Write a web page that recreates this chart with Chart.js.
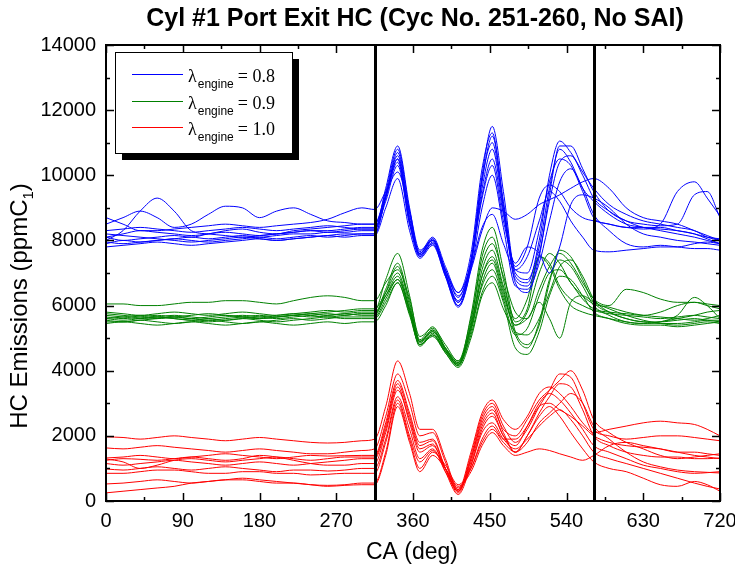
<!DOCTYPE html>
<html>
<head>
<meta charset="utf-8">
<script src="https://cdn.jsdelivr.net/npm/chart.js@4.4.1/dist/chart.umd.min.js"></script>
<style>
  html, body { margin: 0; padding: 0; background: #fff; }
</style>
</head>
<body>
<canvas id="hcChart" width="735" height="567"></canvas>
<script>
// crank angle grid (deg) shared by every cycle trace
var crankAngle = [0, 20, 40, 60, 80, 100, 120, 140, 160, 180, 200, 220, 240, 260, 280, 300,
    315, 328, 342, 356, 368, 383, 398, 413, 428, 441, 453, 466, 480, 494, 508, 520, 532, 545, 559, 572,
    590, 610, 630, 650, 670, 690, 705, 720];

var cycleNumbers = [251, 252, 253, 254, 255, 256, 257, 258, 259, 260];
var lambdaValues = ['0.8', '0.9', '1.0'];
var lineColors = ['#0000ff', '#008000', '#ff0000'];

// exhaust valve window markers (deg)
var markerAngles = [315, 572];

var xTicks = [0, 90, 180, 270, 360, 450, 540, 630, 720];
var yTicks = [0, 2000, 4000, 6000, 8000, 10000, 12000, 14000];

// HC (ppmC1), lambda = 0.8, cycles 251-260
var hcLambda08 = [
    [8700,8500,8300,8300,8350,8400,8450,8500,8450,8400,8450,8500,8550,8650,8850,9000, 8950,9500,10100,8900,7700,8000,7100,6300,7100,8300,9000,8900,8650,8800,9100,9250,9400,9600,9800,9900, 9600,9000,8700,8600,8500,8300,8150,8000],
    [8100,8000,8050,8100,8150,8100,8200,8250,8200,8150,8200,8250,8300,8300,8350,8400, 8400,9400,10600,8700,7600,8050,7000,6100,7400,10000,11500,9500,7000,6800,7800,9600,10800,10400,9600,9200, 8800,8500,8400,8300,8200,8100,8000,7900],
    [7900,8000,7950,8000,8050,8100,8050,8100,8150,8100,8150,8200,8200,8250,8250,8300, 8300,9600,10900,9000,7500,7900,6900,5950,7200,9800,11200,9200,6900,6700,8000,10000,11050,10700,10100,9600, 9100,8800,8600,8500,8400,8300,8100,8000],
    [8100,8200,8300,8250,8200,8150,8200,8300,8350,8250,8200,8300,8350,8400,8450,8500, 8500,9400,10500,8600,7550,8000,7000,6150,7300,9600,10800,8900,6800,6600,7600,9200,10400,10600,10000,9300, 8900,8600,8400,8350,8300,8200,8050,7900],
    [8300,8350,8400,8350,8300,8250,8300,8350,8400,8350,8300,8350,8400,8450,8400,8350, 8350,9200,10300,8500,7600,8050,7100,6250,7400,9400,10500,8800,7200,7800,9300,9700,9500,9000,8700,8600, 8500,8400,8400,8400,8300,8200,8100,8050],
    [7950,7900,7950,8000,8050,8000,7950,8000,8050,8100,8050,8100,8150,8100,8150,8200, 8200,9300,10400,8500,7500,7950,7000,6100,7300,9300,10300,8600,7300,7800,7600,7000,7800,9100,9400,9300, 9000,8500,8200,8100,8000,7950,7900,7850],
    [7800,7850,7900,7950,7900,7850,7900,7950,8000,8050,8000,8050,8100,8150,8100,8150, 8150,9000,9900,8300,7450,7850,6900,6000,7100,9000,10000,8400,6600,6500,7300,8600,9800,10200,9600,8800, 8300,7900,7800,7850,7800,7750,7750,7700],
    [8200,8150,8100,8050,8000,7950,8000,8050,8100,8050,8000,8050,8100,8150,8200,8200, 8200,9300,10500,8600,7600,8000,7100,6400,7200,8400,8800,7900,7100,7500,8600,9500,9200,8600,8100,7700, 7650,7700,7750,7800,7800,7900,7950,7900],
    [8000,8300,8900,9300,8900,8300,8200,8150,8100,8150,8200,8250,8300,8250,8300,8350, 8350,9350,10700,8800,7650,8100,7200,6400,7600,10200,11300,9100,7100,7000,8300,9800,10500,10300,9500,8700, 8500,8400,8350,8500,9500,9800,9300,8750],
    [8500,8700,8900,8700,8400,8500,8800,9050,9000,8700,8900,9000,8800,8600,8550,8500, 8500,9500,10800,8900,7550,7900,6950,6000,7300,9900,11000,9000,6700,6400,7500,9400,10900,10900,10200,9500, 8900,8600,8500,8450,8500,9400,9500,8700]
];

// HC (ppmC1), lambda = 0.9, cycles 251-260
var hcLambda09 = [
    [6050,6050,6000,6000,6050,6100,6100,6150,6150,6100,6050,6150,6250,6300,6250,6150, 6150,6700,7100,6200,5050,5300,4800,4300,5600,7300,7900,6900,5800,5600,6500,7200,7600,7300,6700,6200, 6000,6500,6400,6200,6100,6100,6050,6000],
    [5800,5750,5700,5750,5800,5750,5700,5750,5800,5750,5700,5750,5800,5850,5800,5850, 5850,6800,7600,6300,4950,5350,4700,4200,5700,7700,8400,7100,5500,5900,7500,7300,6600,6200,6000,5850, 5750,5700,5650,5600,5650,5700,5650,5600],
    [5600,5650,5700,5650,5600,5550,5600,5650,5700,5650,5600,5650,5700,5750,5700,5750, 5750,6500,7300,6100,4900,5250,4650,4150,5500,7500,8100,6800,5200,4800,5400,6700,7700,7500,6800,6100, 5800,5600,5500,5500,5550,5600,5550,5500],
    [5550,5500,5550,5600,5650,5600,5550,5600,5650,5700,5650,5700,5750,5800,5850,5900, 5900,6400,7000,5900,4850,5200,4650,4250,5400,7100,7700,6600,5600,6200,7500,7200,6500,6000,5800,5700, 5600,5500,5450,5500,5600,5700,5800,5850],
    [5700,5650,5600,5650,5700,5650,5600,5550,5600,5650,5700,5750,5700,5650,5700,5750, 5750,6300,6900,5850,4800,5150,4600,4200,5300,6900,7500,6500,5100,4700,5500,6800,7400,7200,6600,6000, 5700,5500,5450,5500,5700,6250,6000,5600],
    [5500,5500,5550,5500,5450,5500,5550,5500,5450,5500,5550,5600,5550,5600,5650,5650, 5650,6200,6800,5800,4750,5100,4550,4150,5200,6700,7300,6300,5400,5600,6100,5600,5000,6100,6300,6100, 5900,5700,5550,5450,5400,5450,5500,5450],
    [5650,5600,5650,5700,5650,5600,5650,5700,5650,5600,5650,5700,5750,5700,5750,5800, 5800,6300,6800,5900,4900,5200,4700,4300,5300,6600,7100,6200,5100,5300,6300,7000,7100,6700,6200,5900, 5800,5750,5700,5800,6000,6100,6000,5900],
    [5600,5550,5600,5650,5600,5550,5500,5550,5600,5550,5500,5550,5600,5650,5600,5600, 5600,6100,6700,5750,4800,5100,4600,4200,5100,6400,6900,6100,4700,4500,5200,6300,6900,6800,6300,5800, 5600,5450,5400,5400,5350,5400,5450,5500],
    [5750,5700,5650,5600,5650,5700,5750,5700,5650,5600,5650,5700,5650,5700,5750,5700, 5700,6400,7200,6000,4900,5250,4700,4250,5400,6900,7400,6400,5400,5800,7000,7600,7300,6700,6300,6050, 5950,5800,5700,5650,5600,5550,5600,5700],
    [5450,5500,5450,5400,5450,5500,5450,5400,5450,5500,5450,5400,5450,5500,5450,5500, 5500,6000,6700,5700,4800,5050,4550,4100,5000,6300,6700,5900,5200,5100,5600,6400,7200,7400,6900,6200, 5800,5600,5500,5450,5450,5500,5550,5550]
];

// HC (ppmC1), lambda = 1.0, cycles 251-260
var hcLambda10 = [
    [1970,1950,1900,1950,2000,1950,1900,1850,1900,1950,1900,1850,1800,1780,1800,1850, 1900,2900,4300,3300,2200,2200,1300,350,1500,2700,3100,2500,2200,2600,3300,3500,3300,2900,2400,2100, 2200,2300,2400,2450,2400,2350,2200,2000],
    [1630,1600,1650,1700,1650,1600,1550,1500,1550,1600,1550,1500,1450,1450,1500,1550, 1600,2600,3900,3000,2000,2100,1200,300,1400,2600,3000,2300,1800,2200,2900,3400,3900,3800,3000,2200, 2000,1900,1950,2000,2000,1950,1900,1850],
    [1320,1350,1400,1350,1300,1350,1400,1450,1400,1350,1300,1350,1400,1380,1390,1400, 1400,2400,3700,2700,1800,1900,1000,250,1300,2500,2900,2100,1500,2000,2700,3200,3600,3500,2800,2000, 1700,1500,1400,1350,1350,1300,1300,1320],
    [1290,1200,1000,1100,1250,1300,1250,1200,1250,1300,1350,1300,1250,1300,1350,1350, 1350,2300,3600,2600,1700,1850,1000,300,1200,2300,2700,2000,1700,2300,3000,3300,3100,2700,2200,1700, 1500,1300,1100,1000,900,850,870,900],
    [1250,1300,1280,1250,1300,1350,1300,1250,1300,1400,1350,1250,1150,1100,1100,1150, 1150,2100,3400,2500,1600,1750,900,200,1100,2200,2600,2000,1500,1800,2400,2700,3000,3300,3000,2300, 1900,1500,1200,1050,950,900,880,860],
    [985,950,1000,1050,1000,950,1000,1050,1000,950,900,950,950,920,950,1000, 1000,1900,3200,2200,1300,1600,900,350,1100,2100,2400,1900,1600,1900,2300,2600,2800,2500,2000,1500, 1300,1150,1000,850,700,550,450,370],
    [850,850,900,950,950,900,850,850,900,900,850,850,800,820,850,850, 850,1800,3100,2000,1200,1550,1000,400,1000,1800,2200,1800,1500,2000,2600,2900,2600,2100,1600,1200, 1000,900,700,500,450,600,500,300],
    [523,550,600,650,600,550,600,650,700,650,600,550,500,480,500,550, 550,1500,3000,1900,1000,1500,1100,500,1000,1900,2300,1900,1900,2300,2900,3000,2800,2600,2300,2000, 1800,1700,1650,1600,1500,1400,1350,1300],
    [250,300,350,400,450,550,600,650,650,600,550,550,500,450,480,500, 500,1400,2900,1800,900,1400,1000,450,900,1700,2100,1700,1400,1500,1600,1550,1450,1350,1250,1400, 1700,1800,1700,1600,1500,1500,1450,1400],
    [1150,1100,1150,1200,1250,1200,1150,1100,1150,1200,1150,1100,1150,1200,1250,1300, 1300,2200,3500,2400,1500,1700,1000,300,1300,2400,2800,2200,2000,2500,3100,3400,3700,4000,3400,2500, 2100,1800,1600,1400,1300,1350,1400,1450]
];

var sans = 'Arial, "Liberation Sans", sans-serif';
var serif = '"Times New Roman", "Liberation Serif", serif';

function makeDatasets() {
    var groups = [hcLambda08, hcLambda09, hcLambda10];
    var sets = [];
    groups.forEach(function(cycles, g) {
        cycles.forEach(function(values, c) {
            sets.push({
                label: 'lambda ' + lambdaValues[g] + ' cyc ' + cycleNumbers[c],
                data: crankAngle.map(function(ca, i) { return { x: ca, y: values[i] }; }),
                borderColor: lineColors[g],
                borderWidth: 1,
                pointRadius: 0,
                fill: false,
                cubicInterpolationMode: 'monotone'
            });
        });
    });
    return sets;
}

// frame, inside ticks, marker lines, legend and axis titles
var decorations = {
    id: 'decorations',
    afterDatasetsDraw: function(chart) {
        var ctx = chart.ctx;
        var a = chart.chartArea;
        var x = chart.scales.x;
        var y = chart.scales.y;
        ctx.save();

        ctx.strokeStyle = '#000';
        ctx.lineWidth = 3;
        markerAngles.forEach(function(v) {
            var px = Math.round(x.getPixelForValue(v)) + 0.5;
            ctx.beginPath();
            ctx.moveTo(px, a.top);
            ctx.lineTo(px, a.bottom);
            ctx.stroke();
        });

        ctx.lineWidth = 2;
        ctx.strokeRect(a.left, a.top, a.right - a.left, a.bottom - a.top);

        ctx.lineWidth = 1.5;
        ctx.beginPath();
        for (var v = 0; v <= 720; v += 45) {
            var px = Math.round(x.getPixelForValue(v)) + 0.5;
            var len = v % 90 === 0 ? 8 : 4;
            ctx.moveTo(px, a.bottom); ctx.lineTo(px, a.bottom - len);
            ctx.moveTo(px, a.top); ctx.lineTo(px, a.top + len);
        }
        for (var w = 0; w <= 14000; w += 1000) {
            var py = Math.round(y.getPixelForValue(w)) + 0.5;
            var l2 = w % 2000 === 0 ? 8 : 4;
            ctx.moveTo(a.left, py); ctx.lineTo(a.left + l2, py);
            ctx.moveTo(a.right, py); ctx.lineTo(a.right - l2, py);
        }
        ctx.stroke();

        // legend with drop shadow
        var lx = 115, ly = 52, lw = 177, lh = 101;
        ctx.fillStyle = '#000';
        ctx.fillRect(lx + 7, ly + 7, lw, lh);
        ctx.fillStyle = '#fff';
        ctx.fillRect(lx, ly, lw, lh);
        ctx.lineWidth = 1;
        ctx.strokeStyle = '#000';
        ctx.strokeRect(lx + 0.5, ly + 0.5, lw, lh);
        lambdaValues.forEach(function(val, i) {
            var rowY = 74 + i * 26.5;
            ctx.strokeStyle = lineColors[i];
            ctx.lineWidth = 1;
            ctx.beginPath();
            ctx.moveTo(132, Math.round(rowY) + 0.5);
            ctx.lineTo(183, Math.round(rowY) + 0.5);
            ctx.stroke();
            ctx.fillStyle = '#000';
            ctx.textAlign = 'left';
            ctx.textBaseline = 'alphabetic';
            var tx = 188;
            ctx.font = '18px ' + serif;
            ctx.fillText('\u03bb', tx, rowY + 8);
            tx += ctx.measureText('\u03bb').width + 1;
            ctx.font = '12px ' + sans;
            ctx.fillText('engine', tx, rowY + 14);
            tx += ctx.measureText('engine').width + 4;
            ctx.font = '18px ' + serif;
            ctx.fillText('= ' + val, tx, rowY + 8);
        });

        // chart title
        ctx.fillStyle = '#000';
        ctx.textAlign = 'center';
        ctx.textBaseline = 'middle';
        ctx.font = 'bold 25px ' + sans;
        ctx.fillText('Cyl #1 Port Exit HC (Cyc No. 251-260, No SAI)', 415, 19);

        ctx.font = '23px ' + sans;
        ctx.fillText('CA (deg)', 412, 553);

        // y title with subscript
        ctx.translate(19, 306);
        ctx.rotate(-Math.PI / 2);
        ctx.textAlign = 'left';
        ctx.textBaseline = 'alphabetic';
        var main = 'HC Emissions (ppmC';
        ctx.font = '24px ' + sans;
        var w1 = ctx.measureText(main).width;
        var w3 = ctx.measureText(')').width;
        ctx.font = '15px ' + sans;
        var w2 = ctx.measureText('1').width;
        var start = -(w1 + w2 + w3) / 2;
        ctx.font = '24px ' + sans;
        ctx.fillText(main, start, 8);
        ctx.font = '15px ' + sans;
        ctx.fillText('1', start + w1, 14);
        ctx.font = '24px ' + sans;
        ctx.fillText(')', start + w1 + w2, 8);

        ctx.restore();
    }
};

var ctx = document.getElementById('hcChart');
var chart = new Chart(ctx, {
    type: 'line',
    data: { datasets: makeDatasets() },
    options: {
        responsive: false,
        animation: false,
        devicePixelRatio: 1,
        layout: { padding: { top: 45, right: 15, left: 0, bottom: 0 } },
        plugins: {
            legend: { display: false },
            title: { display: false },
            tooltip: { enabled: false }
        },
        scales: {
            x: {
                type: 'linear',
                min: 0,
                max: 720,
                afterBuildTicks: function(scale) {
                    scale.ticks = xTicks.map(function(v) { return { value: v }; });
                },
                afterFit: function(scale) {
                    scale.height = 66;
                    scale.paddingLeft = 0;
                    scale.paddingRight = 0;
                },
                grid: { display: false, drawTicks: false },
                border: { display: false },
                ticks: {
                    color: '#000',
                    font: { family: sans, size: 20 },
                    padding: 8,
                    maxRotation: 0,
                    autoSkip: false,
                    callback: function(v) { return String(v); }
                }
            },
            y: {
                type: 'linear',
                min: 0,
                max: 14000,
                afterBuildTicks: function(scale) {
                    scale.ticks = yTicks.map(function(v) { return { value: v }; });
                },
                afterFit: function(scale) {
                    scale.width = 106;
                    scale.paddingTop = 0;
                    scale.paddingBottom = 0;
                },
                grid: { display: false, drawTicks: false },
                border: { display: false },
                ticks: {
                    color: '#000',
                    font: { family: sans, size: 20 },
                    padding: 10,
                    autoSkip: false,
                    callback: function(v) { return String(v); }
                }
            }
        }
    },
    plugins: [decorations]
});
</script>
</body>
</html>
